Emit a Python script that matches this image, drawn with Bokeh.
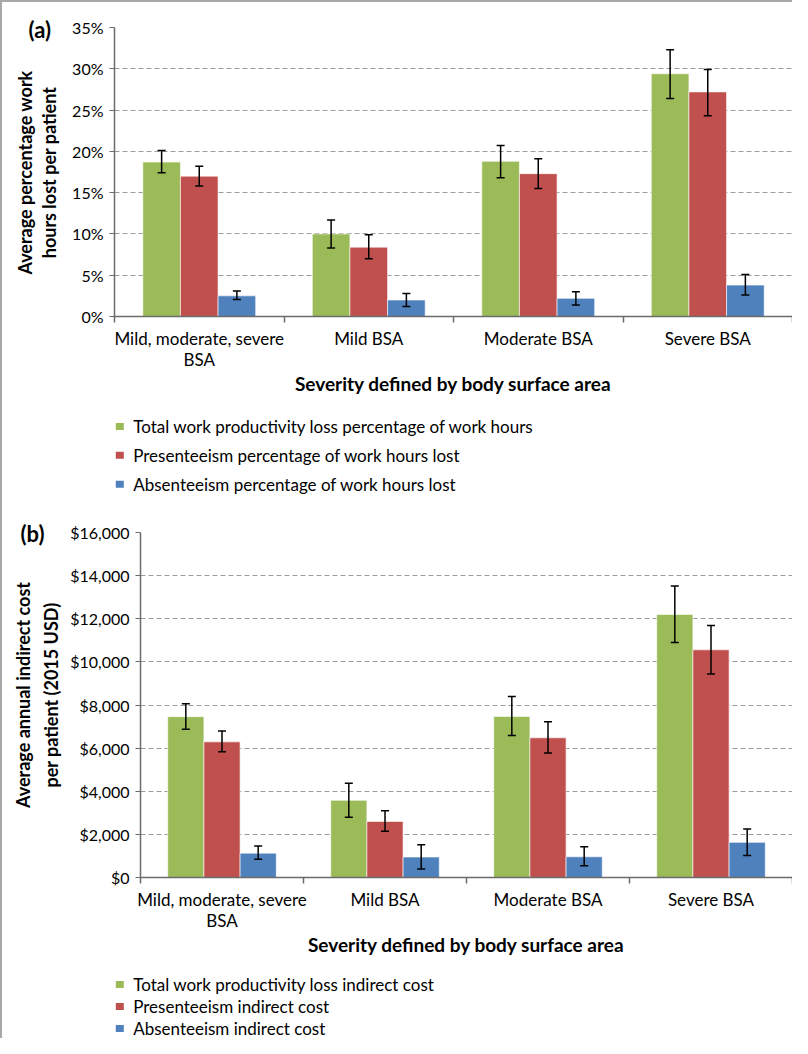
import math
from bokeh.plotting import figure
from bokeh.models import (Range1d, FixedTicker, PrintfTickFormatter, NumeralTickFormatter,
                          Whisker, ColumnDataSource, TeeHead)
from bokeh.core.properties import value
from bokeh.layouts import column, row
from bokeh.embed import file_html
from bokeh.resources import INLINE

# ---------------- data ----------------
categories = ["Mild, moderate, severe\nBSA", "Mild BSA", "Moderate BSA", "Severe BSA"]

pct_names = ["Total work productivity loss percentage of work hours",
             "Presenteeism percentage of work hours lost",
             "Absenteeism percentage of work hours lost"]
pct_total = [18.7, 10.0, 18.8, 29.4]
pct_total_lo = [17.4, 8.3, 16.8, 26.4]
pct_total_hi = [20.1, 11.7, 20.7, 32.3]
pct_pres = [17.0, 8.4, 17.3, 27.2]
pct_pres_lo = [15.8, 7.0, 15.5, 24.3]
pct_pres_hi = [18.2, 9.9, 19.1, 29.9]
pct_abs = [2.5, 2.0, 2.2, 3.8]
pct_abs_lo = [2.05, 1.2, 1.4, 2.6]
pct_abs_hi = [3.1, 2.8, 3.0, 5.1]

cost_names = ["Total work productivity loss indirect cost",
              "Presenteeism indirect cost",
              "Absenteeism indirect cost"]
cost_total = [7460, 3580, 7470, 12200]
cost_total_lo = [6870, 2800, 6590, 10900]
cost_total_hi = [8060, 4370, 8400, 13520]
cost_pres = [6290, 2600, 6480, 10560]
cost_pres_lo = [5830, 2140, 5770, 9440]
cost_pres_hi = [6790, 3090, 7220, 11690]
cost_abs = [1130, 950, 960, 1630]
cost_abs_lo = [850, 400, 540, 1020]
cost_abs_hi = [1460, 1520, 1430, 2250]

colors = ["#9BBB59", "#C0504D", "#4F81BD"]

FONT = "Lato"
AXIS_COLOR = "#6b6b6b"
TOTAL_W = 790
STRIP_W = 65


def no_align(p):
    try:
        p.frame_align = False
    except Exception:
        pass
    return p


def blank(width, height):
    p = figure(width=width, height=height, x_range=Range1d(0, width), y_range=Range1d(0, height),
               output_backend="svg", toolbar_location=None, title=None,
               min_border_left=0, min_border_right=0, min_border_top=0, min_border_bottom=0)
    p.axis.visible = False
    p.grid.visible = False
    p.outline_line_color = None
    return no_align(p)


def make_strip(height, panel, panel_xy, ylabel_lines, line_xs, ylabel_yc):
    s = blank(STRIP_W, height)
    s.text(x=[panel_xy[0]], y=[height - panel_xy[1]], text=[panel],
           text_font=value(FONT), text_font_size="22px", text_font_style="bold",
           text_baseline="middle", text_align="left", text_color="black")
    s.text(x=line_xs, y=[height - ylabel_yc] * len(ylabel_lines), text=ylabel_lines,
           angle=math.pi / 2,
           text_font=value(FONT), text_font_size="18px", text_font_style="bold",
           text_baseline="middle", text_align="center", text_color="black")
    return s


def make_chart(series, y_max, y_step, formatter, height, left, top, bottom):
    n = len(categories)
    p = figure(width=TOTAL_W - STRIP_W, height=height, x_range=Range1d(0, n),
               y_range=Range1d(0, y_max), output_backend="svg", toolbar_location=None,
               title=None, min_border_left=left, min_border_right=0, min_border_top=top,
               min_border_bottom=bottom)
    p.outline_line_color = None
    no_align(p)

    centers = [i + 0.5 for i in range(n)]
    bw = 0.222
    for k, (vals, lo, hi) in enumerate(series):
        xs = [c + (k - 1) * bw for c in centers]
        src = ColumnDataSource(dict(x=xs, top=vals, lower=lo, upper=hi))
        p.vbar(x="x", top="top", width=bw, source=src, fill_color=colors[k],
               line_color="white", line_alpha=0.6, line_width=1)
        w = Whisker(base="x", lower="lower", upper="upper", source=src,
                    line_color="black", line_width=1.5, level="overlay",
                    upper_head=TeeHead(size=8, line_width=1.5, line_color="black"),
                    lower_head=TeeHead(size=8, line_width=1.5, line_color="black"))
        p.add_layout(w)

    p.xgrid.visible = False
    p.ygrid.grid_line_dash = "5 3"
    p.ygrid.grid_line_color = "#9a9a9a"
    p.ygrid.grid_line_width = 1

    p.yaxis.ticker = FixedTicker(ticks=list(range(0, y_max + 1, y_step)))
    p.yaxis.formatter = formatter
    p.yaxis.axis_line_color = AXIS_COLOR
    p.yaxis.axis_line_width = 1.5
    p.yaxis.major_tick_line_color = AXIS_COLOR
    p.yaxis.major_tick_out = 5
    p.yaxis.major_tick_in = 0
    p.yaxis.minor_tick_line_color = None
    p.yaxis.major_label_text_font = FONT
    p.yaxis.major_label_text_font_size = "16px"
    p.yaxis.major_label_text_color = "black"
    p.yaxis.major_label_standoff = 6

    p.xaxis.ticker = FixedTicker(ticks=centers, minor_ticks=list(range(n + 1)))
    p.xaxis.major_label_overrides = {c: cat for c, cat in zip(centers, categories)}
    p.xaxis.axis_line_color = AXIS_COLOR
    p.xaxis.axis_line_width = 1.5
    p.xaxis.major_tick_line_color = None
    p.xaxis.major_tick_out = 0
    p.xaxis.major_tick_in = 0
    p.xaxis.minor_tick_line_color = AXIS_COLOR
    p.xaxis.minor_tick_line_width = 1.5
    p.xaxis.minor_tick_out = 6
    p.xaxis.minor_tick_in = 0
    p.xaxis.major_label_text_font = FONT
    p.xaxis.major_label_text_font_size = "17px"
    p.xaxis.major_label_text_color = "black"
    p.xaxis.major_label_text_line_height = 1.0
    p.xaxis.major_label_standoff = 5
    p.xaxis.axis_label = "Severity defined by body surface area"
    p.xaxis.axis_label_text_font = FONT
    p.xaxis.axis_label_text_font_size = "19px"
    p.xaxis.axis_label_text_font_style = "bold"
    p.xaxis.axis_label_text_color = "black"
    p.xaxis.axis_label_standoff = -1
    return p


def make_legend(names, height, rows_from_top, sq_x, text_x):
    lp = blank(TOTAL_W, height)
    ys = [height - r for r in rows_from_top]
    lp.rect(x=[sq_x] * len(names), y=ys, width=8, height=7, fill_color=colors[:len(names)],
            line_color=None)
    lp.text(x=[text_x] * len(names), y=ys, text=names,
            text_font=value(FONT), text_font_size="17px", text_color="black",
            text_baseline="middle", text_align="left")
    return lp


# ---- panel (a) ----
HA = 400
chart_a = make_chart([(pct_total, pct_total_lo, pct_total_hi),
                      (pct_pres, pct_pres_lo, pct_pres_hi),
                      (pct_abs, pct_abs_lo, pct_abs_hi)],
                     35, 5, PrintfTickFormatter(format="%d%%"), HA, 47, 25, 86)
strip_a = make_strip(HA, "(a)", (26, 27),
                     ["Average percentage work", "hours lost per patient"], [22, 46.5], 170)
legend_a = make_legend(pct_names, 111, [24, 52.7, 81.7], 117.3, 130.7)

# ---- panel (b) ----
HB = 449
chart_b = make_chart([(cost_total, cost_total_lo, cost_total_hi),
                      (cost_pres, cost_pres_lo, cost_pres_hi),
                      (cost_abs, cost_abs_lo, cost_abs_hi)],
                     16000, 2000, NumeralTickFormatter(format="$0,0"), HB, 73, 19, 85)
strip_b = make_strip(HB, "(b)", (18, 20),
                     ["Average annual indirect cost", "per patient (2015 USD)"], [20.3, 48.7], 181.5)
legend_b = make_legend(cost_names, 76, [22, 44, 66], 117.3, 130.7)

layout = column(row(strip_a, chart_a, spacing=0), legend_a,
                row(strip_b, chart_b, spacing=0), legend_b, spacing=0,
                styles={"border-left": "2px solid #a8a8a8", "border-top": "2px solid #a8a8a8"})

open("out.html", "w").write(file_html(layout, INLINE))
